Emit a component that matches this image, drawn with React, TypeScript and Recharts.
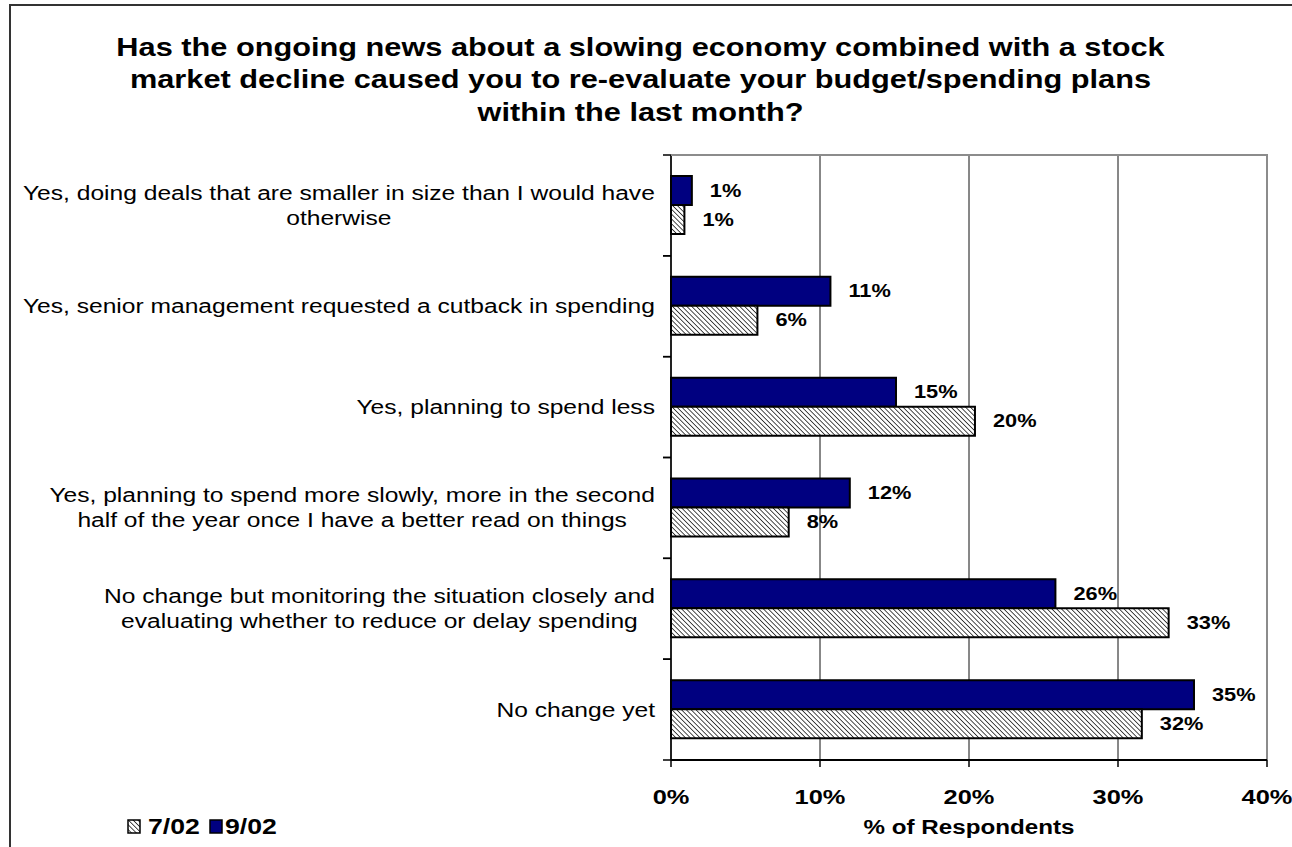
import React from "react";
import {
  BarChart,
  Bar,
  XAxis,
  YAxis,
  CartesianGrid,
  LabelList,
} from "recharts";

// answers, top to bottom ("\n" = line break in the axis label)
const categories = [
  "Yes, doing deals that are smaller in size than I would have\notherwise",
  "Yes, senior management requested a cutback in spending",
  "Yes, planning to spend less",
  "Yes, planning to spend more slowly, more in the second\nhalf of the year once I have a better read on things",
  "No change but monitoring the situation closely and\nevaluating whether to reduce or delay spending",
  "No change yet",
];
const sep02 = [1.4, 10.7, 15.1, 12.0, 25.8, 35.1];
const jul02 = [0.9, 5.8, 20.4, 7.9, 33.4, 31.6];
const xTicks = [0, 10, 20, 30, 40];
const titleLines = [
  "Has the ongoing news about a slowing economy combined with a stock",
  "market decline caused you to re-evaluate your budget/spending plans",
  "within the last month?",
];

const data = categories.map((cat, i) => ({ cat, sep: sep02[i], jul: jul02[i] }));

const W = 1292;
const H = 847;
const SX = 1.21; // the original is stretched horizontally
const FONT = "'Liberation Sans', Arial, sans-serif";
const PLOT = { left: 671, right: 1267, top: 155, bottom: 760 };
const BAND = (PLOT.bottom - PLOT.top) / categories.length;
const NAVY = "#000080";
const FRAME_GRAY = "#8c8c8c";

let ctx: CanvasRenderingContext2D | null = null;
function measure(s: string, font: string) {
  if (!ctx) ctx = document.createElement("canvas").getContext("2d");
  if (!ctx) return s.length * 10;
  ctx.font = font;
  return ctx.measureText(s).width;
}

function CategoryTick(props: any) {
  const { y, payload } = props;
  const lines = String(payload.value).split("\n");
  const maxW = Math.max(...lines.map((l) => measure(l, `20px ${FONT}`)));
  const lh = 25;
  const first = y - ((lines.length - 1) * lh) / 2 + 7;
  return (
    <g>
      <line x1={PLOT.left - 8} x2={PLOT.left} y1={y - BAND / 2} y2={y - BAND / 2} stroke="#000" strokeWidth={1.5} />
      <line x1={PLOT.left - 8} x2={PLOT.left} y1={y + BAND / 2} y2={y + BAND / 2} stroke="#000" strokeWidth={1.5} />
      <text
        transform={`translate(655,0) scale(1.23,1)`}
        fontFamily={FONT}
        fontSize={20}
        fill="#000"
        textAnchor="middle"
      >
        {lines.map((l, i) => (
          <tspan key={i} x={-maxW / 2} y={first + i * lh}>
            {l}
          </tspan>
        ))}
      </text>
    </g>
  );
}

function PercentTick(props: any) {
  const { x, y, payload } = props;
  return (
    <text
      transform={`translate(${x},${y + 35}) scale(${SX},1)`}
      textAnchor="middle"
      fontFamily={FONT}
      fontWeight="bold"
      fontSize={21}
      fill="#000"
    >
      {payload.value}%
    </text>
  );
}

function XTitle() {
  return (
    <text
      transform={`translate(${(PLOT.left + PLOT.right) / 2},834) scale(${SX},1)`}
      textAnchor="middle"
      fontFamily={FONT}
      fontWeight="bold"
      fontSize={20}
      fill="#000"
    >
      % of Respondents
    </text>
  );
}

function ValueLabel(props: any) {
  const x = Number(props.x);
  const y = Number(props.y);
  const w = Number(props.width);
  const h = Number(props.height);
  return (
    <text
      transform={`translate(${x + w + 18},${y + h / 2 + 6}) scale(${SX},1)`}
      fontFamily={FONT}
      fontWeight="bold"
      fontSize={18}
      fill="#000"
    >
      {Math.round(Number(props.value))}%
    </text>
  );
}

function Hatch({ id }: { id: string }) {
  return (
    <pattern id={id} width={3.4} height={3.4} patternUnits="userSpaceOnUse" patternTransform="rotate(-45)">
      <rect width={3.4} height={3.4} fill="#fff" />
      <line x1={0} y1={0} x2={0} y2={3.4} stroke="#000" strokeWidth={1.4} />
    </pattern>
  );
}

export default function App() {
  return (
    <div
      style={{
        position: "absolute",
        left: 0,
        top: 0,
        width: W,
        height: H,
        overflow: "hidden",
        background: "#fff",
      }}
    >
      <BarChart
        width={W}
        height={H}
        data={data}
        layout="vertical"
        barGap={0}
        margin={{ top: PLOT.top, right: W - PLOT.right, bottom: 0, left: 0 }}
      >
        <defs>
          <Hatch id="hatch" />
        </defs>
        <CartesianGrid horizontal={false} stroke="#111" />
        <XAxis
          type="number"
          domain={[0, 40]}
          ticks={xTicks}
          height={H - PLOT.bottom}
          tickSize={7}
          tick={<PercentTick />}
          tickLine={{ stroke: "#000", strokeWidth: 1.5 }}
          axisLine={{ stroke: "#000", strokeWidth: 2 }}
          label={<XTitle />}
        />
        <YAxis
          type="category"
          dataKey="cat"
          width={PLOT.left}
          tick={<CategoryTick />}
          tickLine={false}
          axisLine={{ stroke: "#000", strokeWidth: 1.5 }}
          interval={0}
        />
        <Bar dataKey="sep" name="9/02" fill={NAVY} stroke="#000" strokeWidth={2} barSize={29} isAnimationActive={false}>
          <LabelList dataKey="sep" content={<ValueLabel />} />
        </Bar>
        <Bar dataKey="jul" name="7/02" fill="url(#hatch)" stroke="#000" strokeWidth={2} barSize={29} isAnimationActive={false}>
          <LabelList dataKey="jul" content={<ValueLabel />} />
        </Bar>
      </BarChart>

      <svg
        width={W}
        height={H}
        style={{ position: "absolute", left: 0, top: 0, pointerEvents: "none" }}
      >
        <defs>
          <Hatch id="hatch-legend" />
        </defs>
        <rect x={10} y={5} width={1400} height={1000} fill="none" stroke="#333" strokeWidth={2} />
        {/* plot area frame: top and right edges */}
        <polyline
          points={`${PLOT.left},${PLOT.top} ${PLOT.right},${PLOT.top} ${PLOT.right},${PLOT.bottom - 1}`}
          fill="none"
          stroke={FRAME_GRAY}
          strokeWidth={2}
        />
        <text
          transform={`translate(640.5,0) scale(${SX},1)`}
          textAnchor="middle"
          fontFamily={FONT}
          fontWeight="bold"
          fontSize={25.4}
          fill="#000"
        >
          {titleLines.map((l, i) => (
            <tspan key={i} x={0} y={56 + i * 32.5}>
              {l}
            </tspan>
          ))}
        </text>
        <rect x={128} y={820} width={12} height={13} fill="url(#hatch-legend)" stroke="#000" strokeWidth={1.5} />
        <text transform={`translate(148,834) scale(${SX},1)`} fontFamily={FONT} fontWeight="bold" fontSize={22}>
          7/02
        </text>
        <rect x={210} y={820} width={12} height={13} fill={NAVY} stroke="#000" strokeWidth={1.5} />
        <text transform={`translate(225,834) scale(${SX},1)`} fontFamily={FONT} fontWeight="bold" fontSize={22}>
          9/02
        </text>
      </svg>
    </div>
  );
}
